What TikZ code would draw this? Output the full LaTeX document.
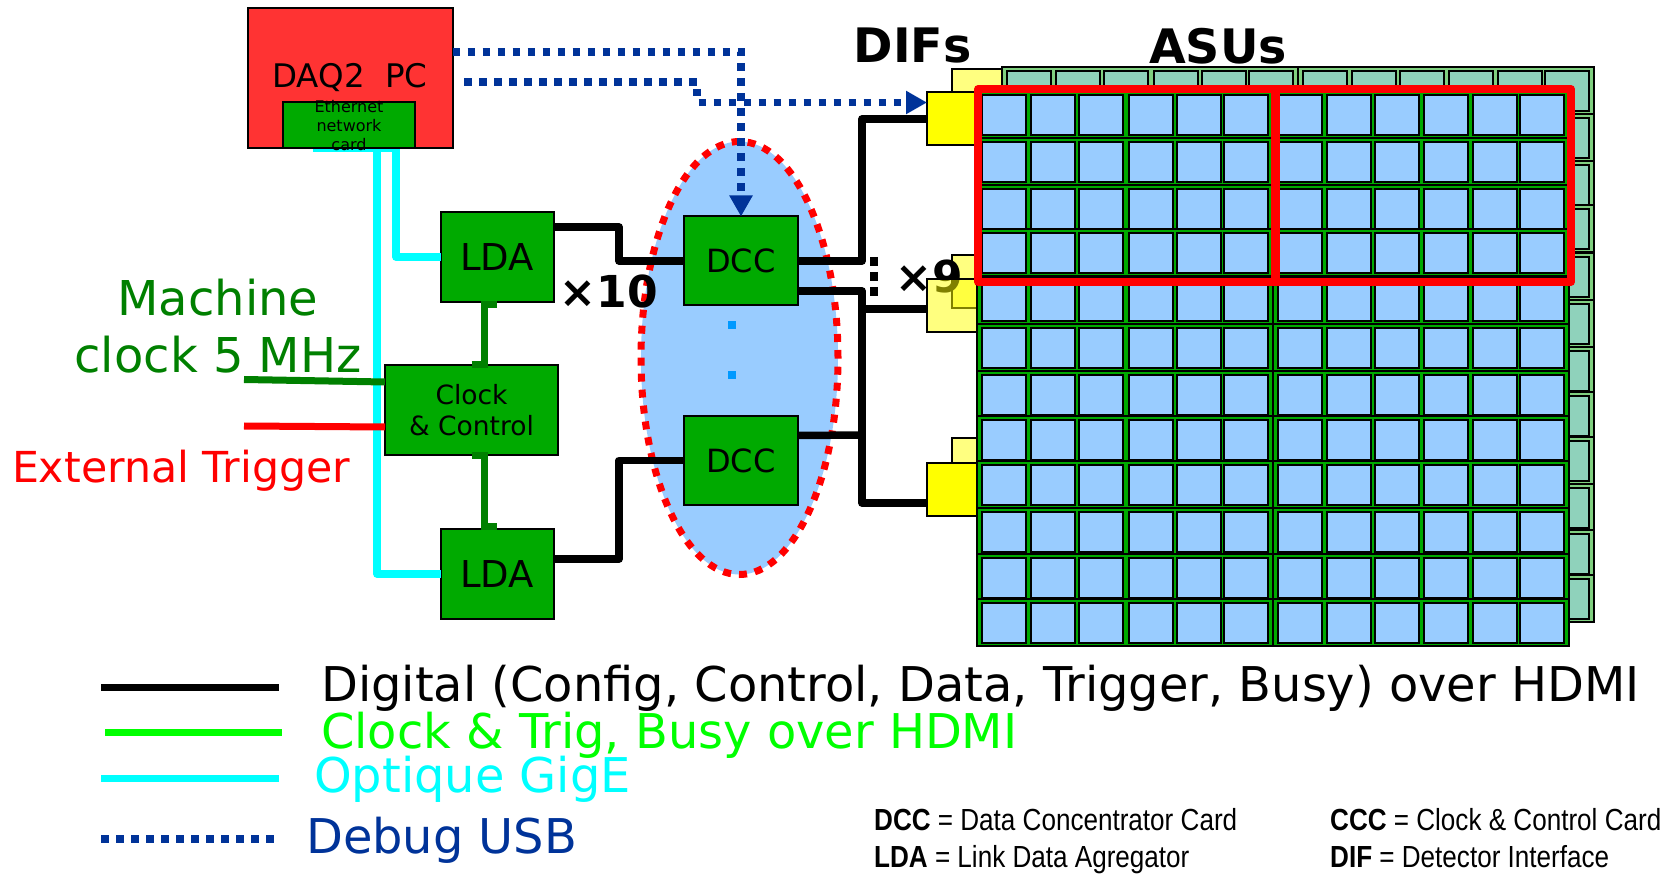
\documentclass[tikz,border=0pt]{standalone}
\usepackage{fontspec}
\setmainfont{DejaVu Sans}
\newfontfamily\notefont{Liberation Sans}
\usetikzlibrary{arrows.meta,shapes.geometric}
\definecolor{usbblue}{HTML}{003399}
\definecolor{cardgreen}{HTML}{00AA00}
\definecolor{wiregreen}{HTML}{008000}
\definecolor{padblue}{HTML}{99CCFF}
\definecolor{backgreen}{HTML}{80D080}
\definecolor{backpad}{HTML}{8FD2BB}
\definecolor{fibrecyan}{HTML}{00FFFF}
\definecolor{difyellow}{HTML}{FFFF00}
\definecolor{diflight}{HTML}{FFFF80}
\definecolor{dotblue}{HTML}{0099FF}
\definecolor{pcred}{HTML}{FF3333}
\newcommand{\fsize}[1]{\fontsize{#1}{#1}\selectfont}
\newcommand{\asugrid}[2]{%
  \foreach \t in {95,142,189,233,281,328,375,420,465,512,558,603} {
    \draw[line width=2,fill=#1] (977,\t-4) rectangle (1569,\t+43);
    \foreach \c in {982,1031,1079,1129,1177,1224,1278,1327,1375,1424,1473,1520}
      \draw[line width=2,fill=#2] (\c,\t) rectangle (\c+44,\t+40);
  }
  \draw[line width=1.5] (1273,91) -- (1273,646);
}
\tikzset{
  box/.style={draw=black,line width=2,fill=cardgreen,inner sep=0,outer sep=0,align=center},
  ldabox/.style={box,minimum width=113,minimum height=90,font=\fsize{37}},
  dccbox/.style={box,minimum width=114,minimum height=89,font=\fsize{32}},
  difbox/.style={draw=black,line width=2,fill=difyellow,inner sep=0,outer sep=0,minimum width=60,minimum height=53},
  difback/.style={draw=black,line width=2,fill=diflight,inner sep=0,outer sep=0,minimum width=50,minimum height=53},
  wire/.style={line width=7.5,line join=round},
  usb/.style={usbblue,line width=7.5,dash pattern=on 7.5pt off 7.5pt},
  usbtip/.style={-{Triangle[length=21pt,width=22pt]}},
  legend/.style={anchor=west,inner sep=0,font=\fsize{47.9}},
  note/.style={anchor=base west,inner sep=0,xscale=0.855,transform shape,font=\notefont\fsize{30.5}},
  dotnode/.style={fill=dotblue,inner sep=0,minimum size=8}
}
\begin{document}
\begin{tikzpicture}[x=1pt,y=-1pt]
  \useasboundingbox (0,0) rectangle (1671,874);
  \node[ldabox] (ldaone) at (497,257) {LDA};
  \node[ldabox] (ldatwo) at (497,574) {LDA};
  % fibres run behind the PC
  \coordinate (fibreleft) at (313,148);
  \coordinate (fibretop) at (377,148);
  \begin{scope}[fibrecyan,line width=7.5,line join=round]
    \draw (fibreleft) -- (396,148) |- (ldaone.west);
    \draw (fibretop) |- (ldatwo.west);
  \end{scope}
  \node[draw=black,line width=2,fill=pcred,inner sep=0,outer sep=0,minimum width=205,minimum height=140,
    font=\fsize{32.5}] (daq) at (350,78) {DAQ2\ \ PC};
  \node[box,minimum width=132,minimum height=46] (nic) at (349,125) {};
  \node[align=center,inner sep=0,font=\fontsize{16}{19}\selectfont] (nictext) at (349,126) {Ethernet\\network\\card};
  % ellipse of DCCs
  \node[draw=red,fill=padblue,line width=7,dash pattern=on 8pt off 8pt,ellipse,inner sep=0,outer sep=0,
    minimum width=197,minimum height=433] (crate) at (739.5,358) {};
  \node[dotnode] (dota) at (732,325) {};
  \node[dotnode] (dotb) at (732,375) {};
  \node[dccbox] (dccone) at (741,261) {DCC};
  \node[dccbox] (dcctwo) at (741,460.5) {DCC};
  \node[inner sep=0,font=\bfseries\fsize{44}] (tenx) at (609,291) {×10};
  % ASU boards and DIFs
  \node[difback] (difbacka) at (977,95.5) {};
  \node[difback] (difbackb) at (977,282) {};
  \node[difback] (difbackc) at (977,465) {};
  \begin{scope}[shift={(25,-24)}]
    \asugrid{backgreen}{backpad}
  \end{scope}
  \node[inner sep=0,font=\bfseries\fsize{44}] (ninex) at (929,277) {×9};
  \node[difbox] (difone) at (957,119) {};
  \node[difbox,fill opacity=0.5] (diftwo) at (957,305.5) {};
  \node[difbox] (difthree) at (957,489) {};
  \asugrid{cardgreen}{padblue}
  \draw[red,line width=7.5,line join=round] (978,89) rectangle (1571,282);
  \draw[red,line width=9] (1275,89) -- (1275,282);
  % clock box and its links
  \node[box,minimum width=173,minimum height=90,font=\fontsize{26.5}{31}\selectfont] (clock) at (471.5,410) {Clock\\\& Control};
  \coordinate (clockup) at (484,333);
  \coordinate (clockdown) at (484,490);
  \begin{scope}[wiregreen,line width=7]
    \draw (clock.north) -| (clockup) |- ([yshift=-3]ldaone.south);
    \draw (clock.south) -| (clockdown) |- ([yshift=3]ldatwo.north);
  \end{scope}
  \coordinate (machinein) at (244,379.5);
  \coordinate (triggerin) at (244,426);
  \draw[wiregreen,line width=7] (machinein) -- ([yshift=28]clock.west);
  \draw[red,line width=7] (triggerin) -- ([yshift=-17]clock.west);
  % HDMI wires
  \begin{scope}[wire]
    \draw ([yshift=30]ldaone.east) -- (619,227) |- (dccone.west);
    \draw ([yshift=15]ldatwo.east) -- (619,559) |- (dcctwo.west);
    \draw (dccone.east) -- (862,261) |- (difone.west);
    \draw ([yshift=-30]dccone.east) -- (862,291) |- ([yshift=-3.5]diftwo.west);
    \draw ([yshift=-3.5]diftwo.west) -| (862,400) |- ([yshift=-14]difthree.west);
    \draw ([yshift=25]dcctwo.east) -- (862,435);
  \end{scope}
  \draw[line width=8,dash pattern=on 9pt off 6pt] (874,257) -- (874,296);
  % debug links
  \coordinate (usbstart) at (464,82);
  \draw[usb,usbtip] ([yshift=26]daq.east) -| (dccone.north);
  \draw[usb,usbtip] (usbstart) -- (697,82) -- (697,102.5) -- ([yshift=16.5]difone.west);
  % labels
  \node[inner sep=0,font=\bfseries\fsize{47.5}] (dif) at (912.5,46) {DIFs};
  \node[inner sep=0,font=\bfseries\fsize{47.5}] (asu) at (1218,46) {ASUs};
  \node[wiregreen,inner sep=0,align=center,font=\fontsize{48}{57}\selectfont] (machine) at (218,326) {Machine\\clock 5 MHz};
  \node[red,inner sep=0,font=\fsize{42.7}] (trigger) at (181,471) {External Trigger};
  % legend
  \coordinate (keya) at (101,687);
  \coordinate (keyb) at (279,687);
  \coordinate (keyc) at (105,732);
  \coordinate (keyd) at (282,732);
  \coordinate (keye) at (101,778);
  \coordinate (keyf) at (279,778);
  \coordinate (keyg) at (101,839);
  \coordinate (keyh) at (275,839);
  \draw[black,line width=7] (keya) -- (keyb);
  \draw[green,line width=7] (keyc) -- (keyd);
  \draw[fibrecyan,line width=7] (keye) -- (keyf);
  \draw[usb] (keyg) -- (keyh);
  \node[legend] (digital) at (321,688) {Digital (Config, Control, Data, Trigger, Busy) over HDMI};
  \node[legend,green] (clocktrig) at (321,735) {Clock \& Trig, Busy over HDMI};
  \node[legend,fibrecyan] (optique) at (314,779) {Optique GigE};
  \node[legend,usbblue] (debug) at (306,840) {Debug USB};
  \node[note] (dccnote) at (874,830) {\textbf{DCC} = Data Concentrator Card};
  \node[note] (ldanote) at (874,867.5) {\textbf{LDA} = Link Data Agregator};
  \node[note] (cccnote) at (1330,830) {\textbf{CCC} = Clock \& Control Card};
  \node[note] (difnote) at (1330,867.5) {\textbf{DIF} = Detector Interface};
\end{tikzpicture}
\end{document}
